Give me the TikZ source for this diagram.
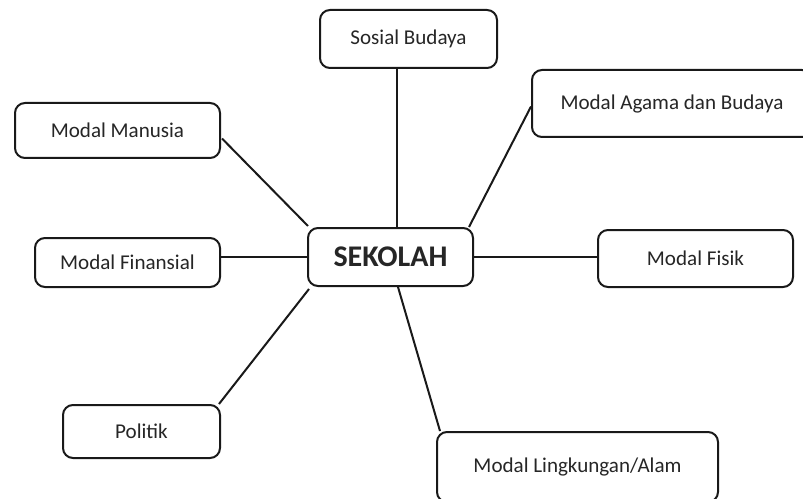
\documentclass[tikz,border=0pt]{standalone}
\usepackage{fontspec}
\setmainfont{Carlito}
\usetikzlibrary{calc}

\colorlet{garis}{black!90}
\colorlet{tulisan}{black!85}

\begin{document}
\begin{tikzpicture}[x=0.75pt, y=-0.75pt,
    kotak/.style={rectangle, rounded corners=7.5pt, draw=garis, line width=1.5pt,
      fill=white, text=tulisan, inner sep=0pt, font=\fontsize{15.8}{18}\selectfont},
    hubung/.style={draw=garis, line width=1.5pt}]
    \useasboundingbox (0,0) rectangle (803,499);

    \node[kotak, minimum width=165*0.75pt, minimum height=58*0.75pt,
      font=\fontsize{22.5}{26}\selectfont\bfseries]
      (sek) at (390.5,257) {SEKOLAH};

    \node[kotak, minimum width=177*0.75pt, minimum height=58*0.75pt]
      (sosial) at (408.5,39) {Sosial Budaya};
    \node[kotak, minimum width=280*0.75pt, minimum height=67*0.75pt]
      (agama) at (672,103.5) {Modal Agama dan Budaya};
    \node[kotak, minimum width=205*0.75pt, minimum height=55*0.75pt]
      (manusia) at (117.5,130.5) {Modal Manusia};
    \node[kotak, minimum width=185*0.75pt, minimum height=49*0.75pt]
      (finansial) at (127.5,262.5) {Modal Finansial};
    \node[kotak, minimum width=195*0.75pt, minimum height=57*0.75pt]
      (fisik) at (695.5,258.5) {Modal Fisik};
    \node[kotak, minimum width=157*0.75pt, minimum height=53*0.75pt]
      (politik) at (141.5,431.5) {Politik};
    \node[kotak, minimum width=281*0.75pt, minimum height=70*0.75pt]
      (lingkungan) at (577.5,467) {Modal Lingkungan/Alam};

    % garis penghubung ke SEKOLAH
    \draw[hubung] ($(sek.north)+(6.5,0)$) -- ($(sosial.south)+(-11.5,0)$);
    \draw[hubung] ($(sek.north east)+(-5,0)$) -- ($(agama.west)+(0,3)$);
    \draw[hubung] ($(sek.north west)+(1,-1)$) -- ($(manusia.east)+(1,8)$);
    \draw[hubung] (sek.west) -- (sek.west -| finansial.east);
    \draw[hubung] (sek.east) -- (sek.east -| fisik.west);
    \draw[hubung] ($(sek.south west)+(2,2)$) -- ($(politik.north east)+(-2,0)$);
    \draw[hubung] ($(sek.south)+(7.5,0)$) -- ($(lingkungan.north west)+(4,0)$);
\end{tikzpicture}
\end{document}
